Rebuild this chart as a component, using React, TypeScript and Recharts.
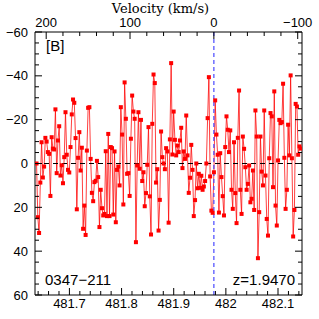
import { LineChart, Line, XAxis, YAxis, ReferenceLine } from "recharts";

/** Spectrum of 0347-211 around the z=1.9470 line */
const REST_NM = 481.977; // velocity zero
const C_KMS = 299792.458;
const X_DOMAIN: [number, number] = [481.634, 482.146];
const FIRST_NM = 481.637;
const LAST_NM = 482.1435;

const FLUX = [
  0, 24.5, 31.7, 8.7, -9.7, 6.4, 1.4, -11.7, -10, -5.2, -4.4, 14.8, -12, -6.8,
  -6.4, -24.7, 4.4, -10.5, -17, 5.5, 0.8, 9, -2.9, -23.4, -4, 2.9, 4.1, -7.5,
  -22.4, -29.2, -27.7, -11.6, 20.9, -2.6,
  -14.3, 3.2, -7.2, 29.8, 19.2, 32.6, -5.9, -25.4, -25.7, -2.1, 13.4, 17.2,
  8.5, 7.9, -1.2, 6.2, 29, 12, 20.4, 23.7, 23, -5.6, 24, -13.5, 24, -7.5, -7,
  23.3, -5.5, 26.8, 2.9, 1.4, 10, -25.7, -13.2, 18.7, -37,
  -20.4, 4.7, 4.4, 14.8, -11.3, -31, -23.7, -20.4, 35.9, 0.9, -23.4, 2.4,
  -19.9, 8, 4, 19.5, 13.5, 0.6, -16.6, 15, 32.4, -18.1, -40.6, -36.7, 8.7, 2.6,
  30.6, 16.6, -14.6, -2.9, 0, 2.6, -7, -5.5, 27, -11,
  -45.8, -4.1, -23.7, -10.8, -3.7, -8.2, -5.2, -10.5, -16.3, 2.1, -5.5, -2.1,
  -21.9, -3.7, 13.4, 6.5, -8.5, 2.9, 24, 16.7, 0, 11.3, 4.7, 11.1, 5.6, 12,
  10.5, 8, 0, -20.7, -39.4, 5.9, 21.5, 22.5, 4, -28.8,
  -13.2, -4, 22.4, -4.7, 6.2, 14.9, 23.7, -7.5, -21.5, -15.4, -5.2, -15.1, 12,
  20.7, -9.7, 13.5, 27.2, -11.7, -33.3, 12, 23, -12.3, -6.7, 1.7, 12, 9.3, 0.9,
  17.7, 16.1, 3.2, 21.2, -24.2, -12.3, 43.2, 22.2,
  -12.3, 3.7, 10, -24.2, 5.5, 25.3, 32.9, -2.4, -23, -21.5, 10.8, -32.9, 19.2,
  28.3, -1.4, -19.9, -18.4, -18.9, -36.4, -2.6, 20.7, 12, -17.7, -3.7, -40.2,
  -2.4, 33.3, 21.2, -27.2, -26, -4, -7.8, -6.8,
];

const X_MAJOR = [481.7, 481.8, 481.9, 482.0, 482.1];
const X_LABELS = ["481.7", "481.8", "481.9", "482", "482.1"];
const VEL_MAJOR = [200, 100, 0, -100];
const VEL_LABELS = ["200", "100", "0", "\u2212100"];
const Y_MAJOR = [-60, -40, -20, 0, 20, 40, 60];
const Y_LABELS = ["\u221260", "\u221240", "\u221220", "0", "20", "40", "60"];

// minor tick grids
const X_TICKS: number[] = [];
for (let k = 24082; k <= 24107; k++) X_TICKS.push(k / 50);
const VEL_TICKS: number[] = [];
for (let v = -100; v <= 200; v += 20) VEL_TICKS.push(v);
const Y_TICKS: number[] = [];
for (let v = -60; v <= 60; v += 5) Y_TICKS.push(v);

const velToNm = (v: number) => REST_NM * (1 - v / C_KMS);
const nmToVel = (nm: number) => C_KMS * (1 - nm / REST_NM);

const data = FLUX.map((flux, i) => ({
  nm: FIRST_NM + (i * (LAST_NM - FIRST_NM)) / (FLUX.length - 1),
  flux,
}));

const FONT = "'Liberation Sans', Arial, sans-serif";
const MAJOR_LEN = 7;
const MINOR_LEN = 4;

const matchIdx = (list: number[], v: number, eps: number) =>
  list.findIndex((m) => Math.abs(m - v) < eps);

function BottomTick({ x, y, payload }: any) {
  const i = matchIdx(X_MAJOR, payload.value, 1e-6);
  return (
    <g>
      <line x1={x} x2={x} y1={y} y2={y - (i >= 0 ? MAJOR_LEN : MINOR_LEN)} stroke="#000" />
      {i >= 0 && (
        <text x={x} y={y + 13} textAnchor="middle" fontSize={13} fontFamily={FONT} fill="#000">
          {X_LABELS[i]}
        </text>
      )}
    </g>
  );
}

function TopTick({ x, y, payload }: any) {
  const v = Math.round(nmToVel(payload.value));
  const i = matchIdx(VEL_MAJOR, v, 0.5);
  return (
    <g>
      <line x1={x} x2={x} y1={y} y2={y + (i >= 0 ? MAJOR_LEN : MINOR_LEN)} stroke="#000" />
      {i >= 0 && (
        <text x={x} y={y - 5} textAnchor="middle" fontSize={13} fontFamily={FONT} fill="#000">
          {VEL_LABELS[i]}
        </text>
      )}
    </g>
  );
}

function LeftTick({ x, y, payload }: any) {
  const i = matchIdx(Y_MAJOR, payload.value, 1e-6);
  return (
    <g>
      <line x1={x} x2={x + (i >= 0 ? MAJOR_LEN : MINOR_LEN)} y1={y} y2={y} stroke="#000" />
      {i >= 0 && (
        <text x={x - 7} y={y + 4.5} textAnchor="end" fontSize={13} fontFamily={FONT} fill="#000">
          {Y_LABELS[i]}
        </text>
      )}
    </g>
  );
}

function RightTick({ x, y, payload }: any) {
  const i = matchIdx(Y_MAJOR, payload.value, 1e-6);
  return (
    <line x1={x} x2={x - (i >= 0 ? MAJOR_LEN : MINOR_LEN)} y1={y} y2={y} stroke="#000" />
  );
}

function SquareDot({ cx, cy, index }: any) {
  if (cx == null || cy == null) return <g key={index} />;
  return <rect key={index} x={cx - 2} y={cy - 2} width={4} height={4} fill="#ff0000" />;
}

export default function App() {
  return (
    <div style={{ position: "absolute", left: 0, top: 0, width: 319, height: 319, background: "#fff" }}>
      <LineChart width={319} height={319} data={data} margin={{ top: 0, right: 0, bottom: 0, left: 0 }}>
        <XAxis
          xAxisId="bottom"
          dataKey="nm"
          type="number"
          domain={X_DOMAIN}
          allowDataOverflow
          ticks={X_TICKS}
          interval={0}
          height={24}
          tickSize={0}
          tickMargin={0}
          tickLine={false}
          axisLine={{ stroke: "#000" }}
          tick={<BottomTick />}
        />
        <XAxis
          xAxisId="top"
          dataKey="nm"
          orientation="top"
          type="number"
          domain={X_DOMAIN}
          allowDataOverflow
          ticks={VEL_TICKS.map(velToNm)}
          interval={0}
          height={32}
          tickSize={0}
          tickMargin={0}
          tickLine={false}
          axisLine={{ stroke: "#000" }}
          tick={<TopTick />}
          label={{
            content: ({ viewBox }: any) => (
              <text
                x={viewBox.x + viewBox.width / 2 - 8}
                y={viewBox.y + 13}
                textAnchor="middle"
                fontSize={13}
                fontFamily="'DejaVu Serif', serif"
                fill="#000"
              >
                Velocity (km/s)
              </text>
            ),
          }}
        />
        <YAxis
          yAxisId="left"
          dataKey="flux"
          type="number"
          domain={[-60, 60]}
          reversed
          allowDataOverflow
          ticks={Y_TICKS}
          interval={0}
          width={35}
          tickSize={0}
          tickMargin={0}
          tickLine={false}
          axisLine={{ stroke: "#000" }}
          tick={<LeftTick />}
        />
        <YAxis
          yAxisId="right"
          dataKey="flux"
          orientation="right"
          type="number"
          domain={[-60, 60]}
          reversed
          allowDataOverflow
          ticks={Y_TICKS}
          interval={0}
          width={17}
          tickSize={0}
          tickMargin={0}
          tickLine={false}
          axisLine={{ stroke: "#000" }}
          tick={<RightTick />}
        />

        {/* invisible series binding the top/right axes to the same data */}
        <Line
          xAxisId="top"
          yAxisId="right"
          dataKey="flux"
          stroke="none"
          dot={false}
          activeDot={false}
          isAnimationActive={false}
        />

        <Line
          xAxisId="bottom"
          yAxisId="left"
          type="linear"
          dataKey="flux"
          stroke="#ff0000"
          strokeOpacity={0.75}
          strokeWidth={1}
          dot={SquareDot}
          activeDot={false}
          isAnimationActive={false}
        />

        <ReferenceLine xAxisId="bottom" yAxisId="left" y={0} stroke="#000" strokeDasharray="5 4" />
        <ReferenceLine
          xAxisId="bottom"
          yAxisId="left"
          x={REST_NM}
          stroke="#4a4aff"
          strokeWidth={1.2}
          strokeDasharray="4 3"
        />

        <text x={46} y={51} fontSize={15} fontFamily={FONT} fill="#000">
          [B]
        </text>
        <text x={45} y={285} fontSize={15} fontFamily={FONT} fill="#000">
          0347{"\u2212"}211
        </text>
        <text x={295} y={285} textAnchor="end" fontSize={15} fontFamily={FONT} fill="#000">
          z=1.9470
        </text>
      </LineChart>
    </div>
  );
}
